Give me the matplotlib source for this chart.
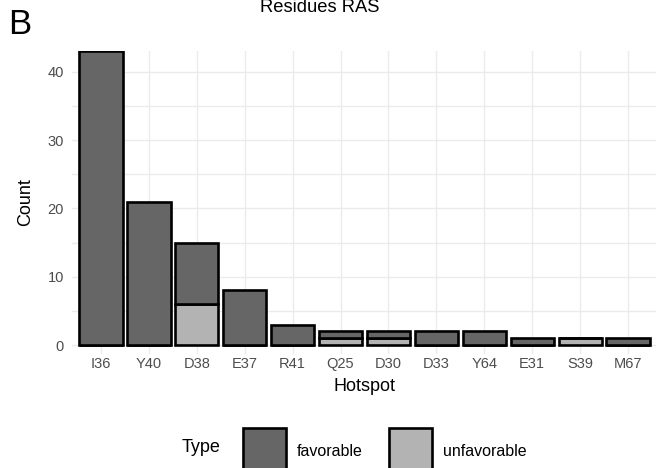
import matplotlib
matplotlib.use("Agg")
import matplotlib.pyplot as plt
from matplotlib.patches import Rectangle
import numpy as np

plt.rcParams['font.family'] = ['Liberation Sans', 'DejaVu Sans']

hotspots = ["I36", "Y40", "D38", "E37", "R41", "Q25", "D30", "D33", "Y64", "E31", "S39", "M67"]
favorable = [43, 21, 9, 8, 3, 1, 1, 2, 2, 1, 0, 1]
unfavorable = [0, 0, 6, 0, 0, 1, 1, 0, 0, 0, 1, 0]
type_labels = ["favorable", "unfavorable"]
type_colors = ["#666666", "#b3b3b3"]

W, H = 656, 468
fig = plt.figure(figsize=(W / 100, H / 100), dpi=100)

# panel geometry in pixels
left_px, right_px = 72.3, 656
top_px, bot_px = 50.8, 353.9
ax = fig.add_axes([left_px / W, (H - bot_px) / H, (right_px - left_px) / W, (bot_px - top_px) / H])

x = np.arange(len(hotspots))
fav = np.array(favorable)
unf = np.array(unfavorable)
lw = 1.9
ax.bar(x, unf, width=0.9, color=type_colors[1], edgecolor="black", linewidth=lw, zorder=3)
ax.bar(x, fav, width=0.9, bottom=unf, color=type_colors[0], edgecolor="black", linewidth=lw, zorder=3)

ax.set_xlim(-0.6, 11.585)
ax.set_ylim(-1.3, 43.1)
ax.set_xticks(x)
ax.set_xticklabels(hotspots)
ax.set_yticks([0, 10, 20, 30, 40])
ax.set_yticks([5, 15, 25, 35], minor=True)
for s in ax.spines.values():
    s.set_visible(False)
ax.grid(True, which="both", color="#ebebeb", linewidth=1.0, zorder=0)
ax.tick_params(axis="both", which="both", length=0, labelsize=10.5, labelcolor="#4d4d4d")
ax.tick_params(axis="x", pad=2.5)
ax.tick_params(axis="y", pad=6)
ax.set_axisbelow(True)

ax.set_xlabel("Hotspot", fontsize=13, labelpad=5)
ax.set_ylabel("Count", fontsize=13, labelpad=10)

fig.text(320 / W, 1 - 7 / H, "Residues RAS", fontsize=13.2, ha="center", va="center")
fig.text(8 / W, 1 - 25 / H, "B", fontsize=25, ha="left", va="center")

# legend
ly = 448
fig.text(182 / W, 1 - ly / H, "Type", fontsize=13, ha="left", va="center")
key_w, key_h = 43, 41
for kx, tx, lab, col in [(243, 297, type_labels[0], type_colors[0]),
                         (389, 443, type_labels[1], type_colors[1])]:
    r = Rectangle((kx / W, 1 - (ly + key_h / 2) / H), key_w / W, key_h / H,
                  transform=fig.transFigure, facecolor=col, edgecolor="black",
                  linewidth=lw, clip_on=False)
    fig.add_artist(r)
    fig.text(tx / W, 1 - (ly + 4) / H, lab, fontsize=11.5, ha="left", va="center")

fig.savefig("out.png", dpi=100)
